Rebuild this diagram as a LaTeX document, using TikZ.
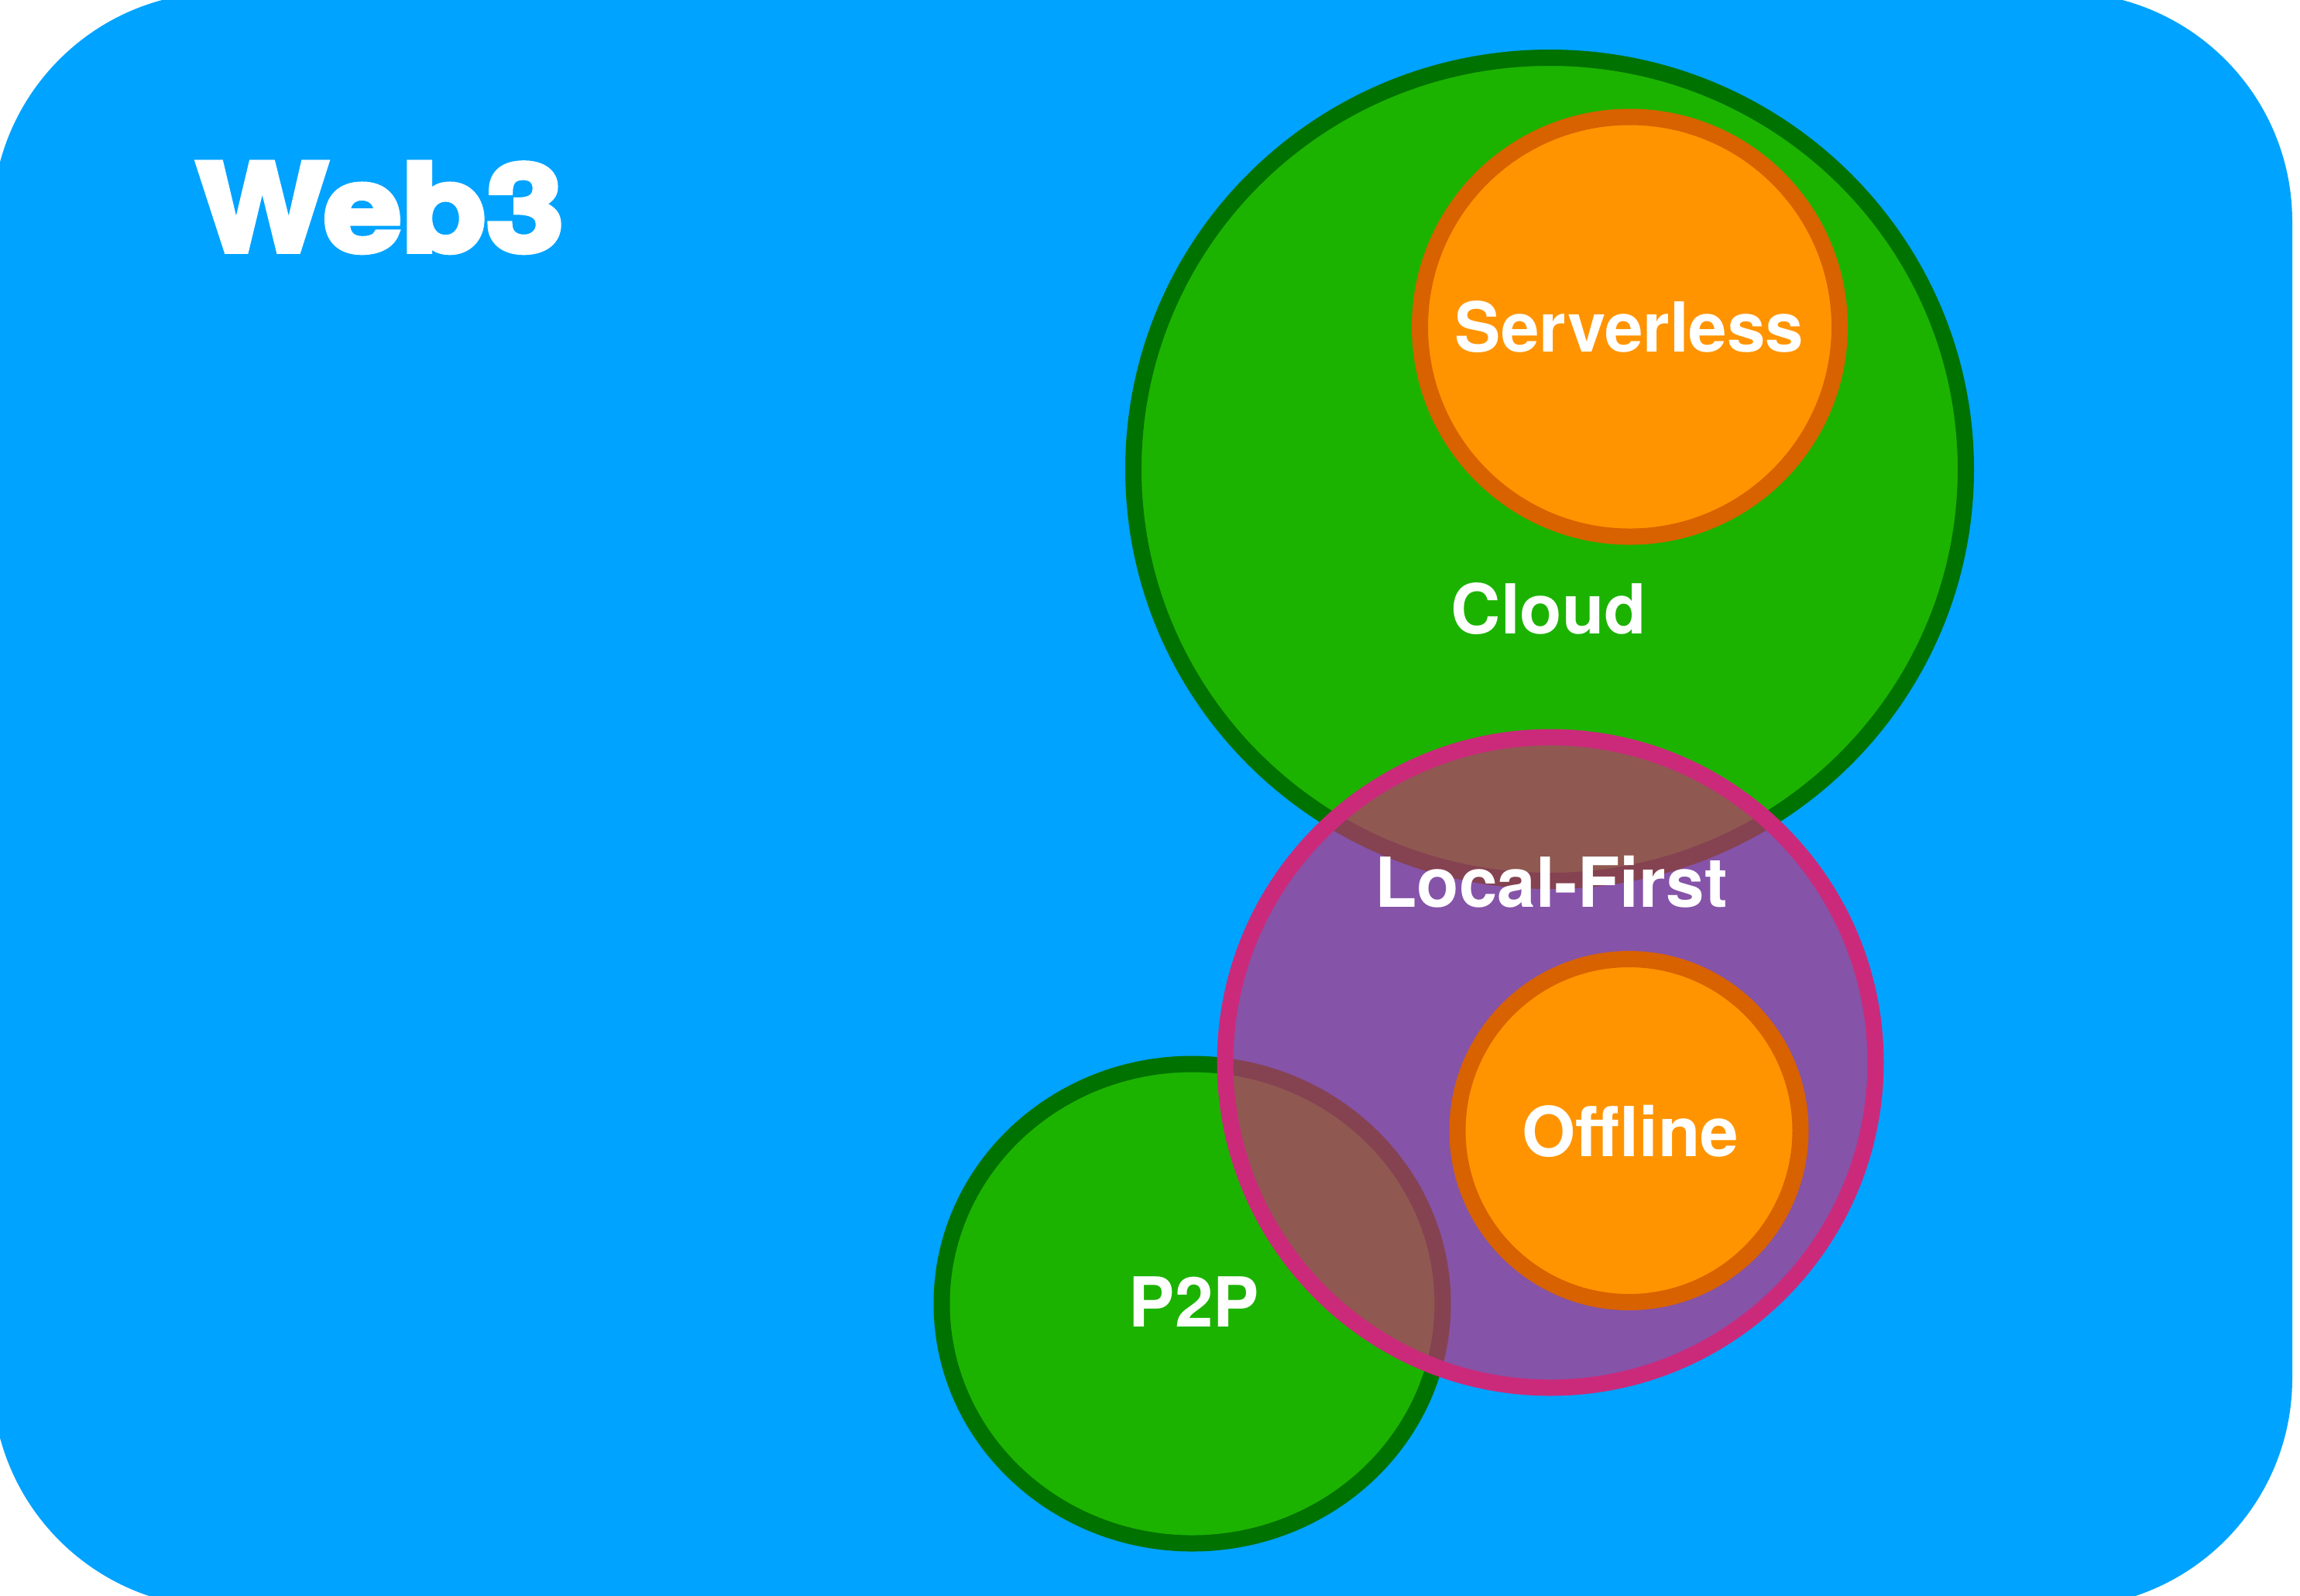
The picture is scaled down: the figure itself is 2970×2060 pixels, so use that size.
\documentclass[tikz,border=0pt]{standalone}
\usepackage{fontspec}
\newfontfamily\labfont{texgyreheros-bold.otf}
\newfontfamily\webfont{texgyreheros-bold.otf}[FakeBold=5,FakeStretch=1.15]
\definecolor{bgblue}{RGB}{0,163,255}
\definecolor{gfill}{RGB}{28,179,0}
\definecolor{gline}{RGB}{0,114,0}
\definecolor{ofill}{RGB}{255,148,0}
\definecolor{oline}{RGB}{216,97,0}
\definecolor{pline}{RGB}{203,42,123}
\tikzset{
  greenset/.style={fill=gfill, draw=gline, line width=5.25pt},
  orangeset/.style={fill=ofill, draw=oline, line width=5.25pt},
  pinkset/.style={fill=pline, fill opacity=0.66, draw=pline, draw opacity=1, line width=5.25pt},
  lab/.style={text=white, inner sep=0pt, anchor=base, font=\labfont\fontsize{22.25pt}{26pt}\selectfont},
  titlelab/.style={text=white, inner sep=0pt, anchor=base west, font=\webfont\fontsize{39pt}{46pt}\selectfont}
}
\begin{document}
\begin{tikzpicture}[x=0.25pt,y=-0.25pt]
\useasboundingbox (0,0) rectangle (2970,2060);
\clip (0,0) rectangle (2970,2060);
% background
\fill[bgblue, rounded corners=74pt] (-10,-10) rectangle (2960,2076);
% Cloud
\path[greenset] (2001,606) ellipse [x radius=537.5, y radius=531.5];
% Serverless
\path[orangeset] (2104.5,422) circle [radius=271];
% P2P
\path[greenset] (1539.5,1683.5) ellipse [x radius=323.5, y radius=309.5];
% Local-First
\path[pinkset] (2002,1372) circle [radius=420];
% Offline
\path[orangeset] (2103.5,1460) circle [radius=221.5];
% labels
\node[titlelab] (web3) at (253,324) {Web3};
\node[lab] (serverless) at (2104,454) {Serverless};
\node[lab] (cloud) at (2000,818) {Cloud};
\node[lab] (localfirst) at (2003,1171) {Local-First};
\node[lab] (offline) at (2105,1493) {Offline};
\node[lab] (p2p) at (1542,1713) {P2P};
\end{tikzpicture}
\end{document}
